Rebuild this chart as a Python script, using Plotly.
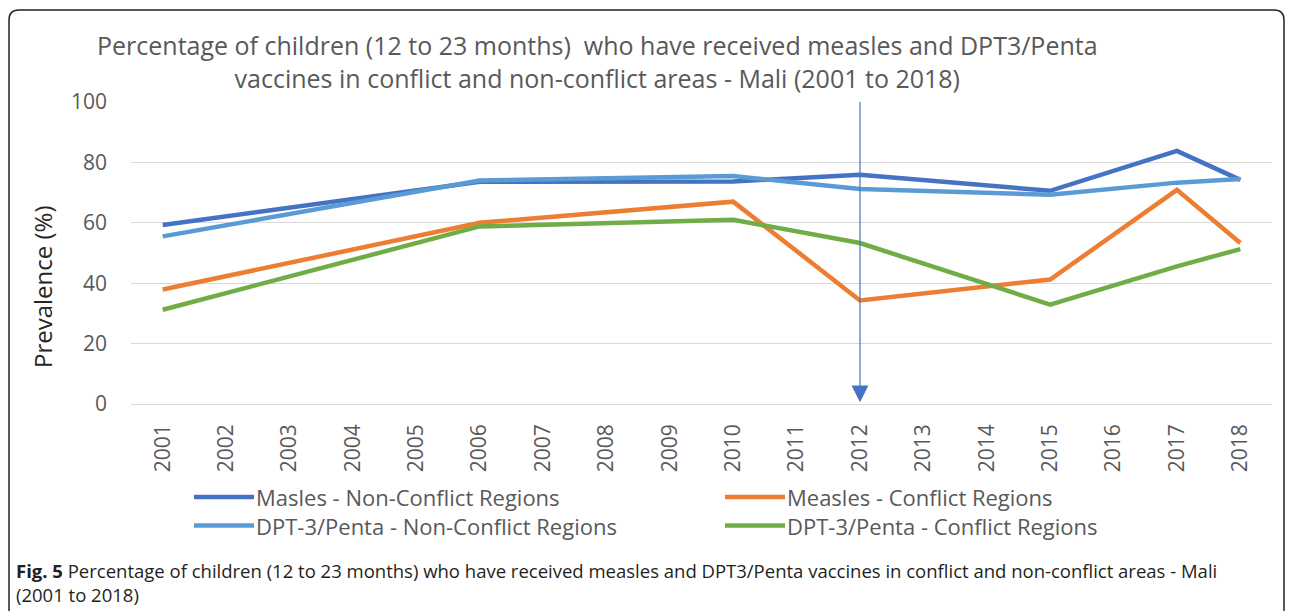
import plotly.graph_objects as go

# ---------------- data ----------------
years = [str(y) for y in range(2001, 2019)]
survey_years = ["2001", "2006", "2010", "2012", "2015", "2017", "2018"]
measles_nonconflict = [59.3, 73.6, 73.7, 75.9, 70.6, 83.8, 74.2]
measles_conflict = [37.9, 60.0, 67.0, 34.3, 41.2, 70.9, 53.3]
dpt_nonconflict = [55.5, 74.0, 75.5, 71.2, 69.3, 73.3, 74.5]
dpt_conflict = [31.2, 58.8, 61.0, 53.3, 32.9, 45.6, 51.3]
series_names = ["Masles - Non-Conflict Regions", "Measles - Conflict Regions",
                "DPT-3/Penta - Non-Conflict Regions", "DPT-3/Penta - Conflict Regions"]
series_values = [measles_nonconflict, measles_conflict, dpt_nonconflict, dpt_conflict]
series_colors = ["#4472C4", "#ED7D31", "#5B9BD5", "#70AD47"]
y_ticks = [0, 20, 40, 60, 80, 100]
conflict_year = "2012"
title_lines = ["Percentage of children (12 to 23 months)  who have received measles and DPT3/Penta",
               "vaccines in conflict and non-conflict areas - Mali (2001 to 2018)"]
caption_lines = ["<b>Fig. 5</b> Percentage of children (12 to 23 months) who have received measles and DPT3/Penta vaccines in conflict and non-conflict areas - Mali",
                 "(2001 to 2018)"]
y_title = "Prevalence (%)"

# ---------------- layout geometry (pixels) ----------------
FW, FH = 1290, 611
PL, PR, PT, PB = 131, 1272, 102, 404
PW, PH = PR - PL, PB - PT


def px(x):
    return (x - PL) / PW


def py(y):
    return (PB - y) / PH


fig = go.Figure()
for name, vals, col in zip(series_names, series_values, series_colors):
    fig.add_trace(go.Scatter(x=survey_years, y=vals, name=name, mode="lines",
                             connectgaps=True, showlegend=False,
                             line=dict(color=col, width=4.5)))

shapes = []
annotations = []

# manual legend (2 columns x 2 rows, items listed row by row)
leg_cols = [194, 725]
leg_rows = [497, 525.5]
leg_font = 22
for c in range(2):
    col_items = [i for i in range(len(series_names)) if i % 2 == c]
    for r, i in enumerate(col_items):
        shapes.append(dict(type="line", xref="paper", yref="paper",
                           x0=px(leg_cols[c]), x1=px(leg_cols[c] + 60),
                           y0=py(leg_rows[r]), y1=py(leg_rows[r]),
                           line=dict(color=series_colors[i], width=4.5)))
    annotations.append(dict(xref="paper", yref="paper", x=px(leg_cols[c] + 61),
                            y=py((leg_rows[0] + leg_rows[1]) / 2),
                            xanchor="left", yanchor="middle", align="left", showarrow=False,
                            borderpad=0,
                            text="<br>".join(series_names[i] for i in col_items),
                            font=dict(size=leg_font, color="#595959", family="Open Sans")))

# title
annotations.append(dict(xref="paper", yref="paper", x=px(597), y=py(61.5),
                        xanchor="center", yanchor="middle", showarrow=False, borderpad=0,
                        text="<br>".join(title_lines),
                        font=dict(size=25, color="#595959", family="Open Sans")))

# y-axis title
annotations.append(dict(xref="paper", yref="paper", x=px(42), y=py(287),
                        xanchor="center", yanchor="middle", showarrow=False, textangle=-90,
                        text=y_title, font=dict(size=24, color="#262626", family="Open Sans")))

# caption
annotations.append(dict(xref="paper", yref="paper", x=px(15), y=py(582),
                        xanchor="left", yanchor="middle", align="left", showarrow=False,
                        borderpad=0, text="<br>".join(caption_lines),
                        font=dict(size=18.5, color="#231F20", family="Open Sans")))

# arrow marking the conflict year
ci = years.index(conflict_year)
annotations.append(dict(x=ci, y=0.6, xref="x", yref="y", ax=ci, ay=100.5,
                        axref="x", ayref="y", showarrow=True, arrowhead=2,
                        arrowwidth=1.2, arrowsize=2.8, arrowcolor="#4472C4", text=""))

# outer rounded frame
r = 10
L, T, R, B = 9, 10, 1284, 660
path = (f"M {px(L)},{py(B)} L {px(L)},{py(T + r)} Q {px(L)},{py(T)} {px(L + r)},{py(T)} "
        f"L {px(R - r)},{py(T)} Q {px(R)},{py(T)} {px(R)},{py(T + r)} L {px(R)},{py(B)}")
shapes.append(dict(type="path", xref="paper", yref="paper", path=path,
                   line=dict(color="#231F20", width=1.5)))

fig.update_layout(
    width=FW, height=FH,
    margin=dict(l=PL, r=FW - PR, t=PT, b=FH - PB, pad=0),
    paper_bgcolor="white", plot_bgcolor="white",
    shapes=shapes, annotations=annotations,
    showlegend=False,
    xaxis=dict(type="category", categoryorder="array", categoryarray=years,
               tickvals=years, range=[-0.5, len(years) - 0.5],
               showgrid=False, zeroline=False, showline=False, ticks="",
               tickangle=-90, ticklabelstandoff=15,
               tickfont=dict(size=21, color="#595959", family="Open Sans")),
    yaxis=dict(range=[0, 100], tickvals=y_ticks, showgrid=True, gridcolor="#D9D9D9",
               gridwidth=1, zeroline=True, zerolinecolor="#D9D9D9", zerolinewidth=1,
               showline=False, ticks="", ticklabelstandoff=23,
               tickfont=dict(size=21, color="#595959", family="Open Sans")),
)

fig.write_html("out.html")
